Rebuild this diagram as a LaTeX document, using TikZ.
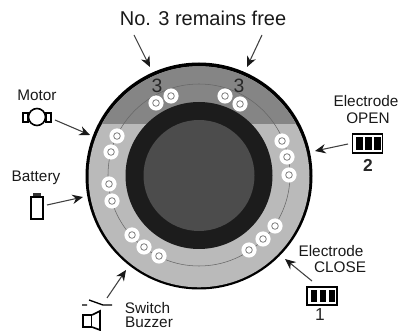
\documentclass[tikz,border=0pt]{standalone}
\usepackage{fontspec}
\setmainfont{Liberation Sans}
\usetikzlibrary{arrows.meta}
\definecolor{ringlight}{gray}{0.73}
\definecolor{ringdark}{gray}{0.52}
\definecolor{coreblack}{gray}{0.11}
\definecolor{coregray}{gray}{0.30}
\tikzset{
  x=0.75pt,y=-0.75pt,
  lab/.style={font=\fontsize{11.5}{12}\selectfont,inner sep=0pt,text=black!90},
  big/.style={font=\fontsize{15}{16}\selectfont,inner sep=0pt,text=black!90},
  num/.style={font=\fontsize{13}{13}\selectfont,inner sep=0pt,text=black!85},
  three/.style={font=\fontsize{14.5}{15}\selectfont,inner sep=0pt,text=black!85},
  pointer/.style={draw=black!75,line width=0.8pt,-{Stealth[length=8pt,width=7pt,color=black!90]}},
  icon/.style={draw=black,line width=1.2pt,fill=white},
  pin/.pic={\fill[white] (0,0) circle (7.6);\draw[black!50,line width=0.6pt] (0,0) circle (3.3);},
}
\begin{document}
\begin{tikzpicture}
\useasboundingbox (0,0) rectangle (407,331);
% disc
\fill[black] (199,176) circle (113.5);
\fill[ringlight] (199,176.8) circle (110.5);
\begin{scope}
\clip (199,176.8) circle (110.5);
\fill[ringdark] (80,60) rectangle (320,124);
\end{scope}
\draw[black!60,line width=0.4pt] (199,175) circle (91);
\fill[coreblack] (199,175.5) circle (73.5);
\fill[coregray] (199,175.5) circle (55.5);
% pins
\foreach \p in {(156,103),(171,96),(225,96),(240,104),(117,136),(111,152),(109,184),(112,201),(132,235),(144,247),(159,256),(249,250),(263,239),(275,226),(282,141),(287,157),(289,175)}
  \pic at \p {pin};
\node[three] (n3l) at (157,86) {3};
\node[three] (n3r) at (239,86) {3};
% labels
\node[big] (title) at (203,18) {No. 3 remains free};
\node[lab] (motor) at (37,95) {Motor};
\node[lab] (battery) at (36,178) {Battery};
\node[lab] (eo1) at (366,101) {Electrode};
\node[lab] (eo2) at (368,118) {OPEN};
\node[num,font=\fontsize{13}{13}\bfseries\selectfont] (two) at (368,165) {2};
\node[lab] (ec1) at (331,251) {Electrode};
\node[lab] (ec2) at (340,267) {CLOSE};
\node[num] (one) at (320,315) {1};
\node[lab] (sw) at (147.5,308) {Switch};
\node[lab] (bz) at (149,322.5) {Buzzer};
% motor icon
\draw[icon] (23,113) rectangle (28,122);
\draw[icon] (46,113) rectangle (51,122);
\draw[icon] (37,117) circle (8.5);
\coordinate (motorout) at (55,120);
\coordinate (motorin) at (90,135);
\draw[pointer] (motorout) -- (motorin);
% battery icon
\fill[black!80] (33,193) rectangle (41,198);
\draw[icon] (31,197) rectangle (43,219);
\coordinate (batout) at (47,205);
\coordinate (batin) at (83,197);
\draw[pointer] (batout) -- (batin);
% electrode OPEN
\draw[icon,line width=1.3pt] (352.5,134) rectangle (382.5,153);
\foreach \x in {356,365,374} \fill[black] (\x,137) rectangle ++(6.5,13);
\coordinate (eoout) at (348,144);
\coordinate (eoin) at (315,151);
\draw[pointer] (eoout) -- (eoin);
% electrode CLOSE
\draw[icon,line width=1.3pt] (307,287) rectangle (337,305);
\foreach \x in {311,320,329} \fill[black] (\x,290) rectangle ++(5.5,12);
\coordinate (ecout) at (312,281);
\coordinate (ecin) at (285,259);
\draw[pointer] (ecout) -- (ecin);
% switch and buzzer
\draw[black,line width=1pt] (82,305) -- (87,305) (89,300) -- (103,305) -- (112,305);
\draw[icon] (83,315) rectangle (92,327);
\draw[icon] (92,315) -- (100,311) -- (100,330) -- (92,327);
\coordinate (swout) at (107,298);
\coordinate (swin) at (126,270);
\draw[pointer] (swout) -- (swin);
% title arrows
\coordinate (tl) at (134,35);
\coordinate (tlin) at (150,67);
\coordinate (tr) at (262,35);
\coordinate (trin) at (247,67);
\draw[pointer] (tl) -- (tlin);
\draw[pointer] (tr) -- (trin);
\end{tikzpicture}
\end{document}
